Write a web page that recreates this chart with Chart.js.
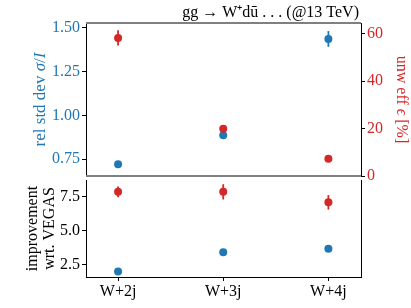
<!DOCTYPE html>
<html>
<head>
<meta charset="utf-8">
<script src="https://cdn.jsdelivr.net/npm/chart.js@4"></script>
<style>
	body { margin: 0; background: #fff; }
	#wrap { position: relative; width: 411px; height: 308px; }
	canvas { position: absolute; left: 0; }
</style>
</head>
<body>
<div id="wrap">
	<canvas id="top" width="411" height="180" style="top:0"></canvas>
	<canvas id="bot" width="411" height="132" style="top:176px"></canvas>
</div>
<script>
const categories = ["W+2j", "W+3j", "W+4j"];

// top panel
const relStdDev = [0.72, 0.886, 1.437];
const relStdDevErr = [0.01, 0.01, 0.045];
const unwEff = [58.3, 20.0, 7.3];
const unwEffErr = [3.2, 0.6, 0.5];

// bottom panel
const impStdDev = [2.0, 3.42, 3.67];
const impStdDevErr = [0.05, 0.07, 0.07];
const impEff = [7.85, 7.85, 7.08];
const impEffErr = [0.4, 0.56, 0.53];

const relTicks = [0.75, 1.0, 1.25, 1.5];
const effTicks = [0, 20, 40, 60];
const impTicks = [2.5, 5.0, 7.5];

const BLUE = "#1f77b4";
const RED = "#d62728";
const FONT = "\"Liberation Serif\", serif";
const SIZE = 16;

Chart.defaults.font.family = FONT;
Chart.defaults.font.size = SIZE;
Chart.defaults.color = "#000";

const points = (vals) => vals.map((v, i) => ({ x: i, y: v }));

function drawRich(ctx, x, y, angle, parts, color, size) {
	ctx.save();
	ctx.translate(x, y);
	ctx.rotate(angle);
	ctx.fillStyle = color;
	ctx.textBaseline = "middle";
	let total = 0;
	parts.forEach((p) => {
		ctx.font = (p[1] ? "italic " : "") + size + "px " + FONT;
		total += ctx.measureText(p[0]).width;
	});
	let cx = -total / 2;
	parts.forEach((p) => {
		ctx.font = (p[1] ? "italic " : "") + size + "px " + FONT;
		ctx.fillText(p[0], cx, 0);
		cx += ctx.measureText(p[0]).width;
	});
	ctx.restore();
}

const errorBars = {
	id: "errorBars",
	beforeDatasetsDraw(chart) {
		const ctx = chart.ctx;
		chart.data.datasets.forEach((ds) => {
			if (!ds.errors) return;
			const xs = chart.scales.x;
			const ys = chart.scales[ds.yAxisID];
			ctx.save();
			ctx.strokeStyle = ds.backgroundColor;
			ctx.lineWidth = 1.8;
			ds.data.forEach((p, i) => {
				const px = xs.getPixelForValue(p.x);
				ctx.beginPath();
				ctx.moveTo(px, ys.getPixelForValue(p.y - ds.errors[i]));
				ctx.lineTo(px, ys.getPixelForValue(p.y + ds.errors[i]));
				ctx.stroke();
			});
			ctx.restore();
		});
	}
};

const topDeco = {
	id: "topDeco",
	afterDraw(chart) {
		const ctx = chart.ctx;
		const a = chart.chartArea;
		ctx.save();
		ctx.strokeStyle = "#808080";
		ctx.lineWidth = 2;
		ctx.beginPath();
		ctx.moveTo(a.left, a.top);
		ctx.lineTo(a.right, a.top);
		ctx.moveTo(a.left, a.bottom);
		ctx.lineTo(a.right, a.bottom);
		ctx.stroke();
		ctx.fillStyle = "#000";
		ctx.font = SIZE + "px " + FONT;
		ctx.textAlign = "right";
		ctx.textBaseline = "alphabetic";
		ctx.fillText("gg \u2192 W\u207Ad\u016B . . . (@13 TeV)", a.right - 2, 17);
		ctx.restore();
		const cy = (a.top + a.bottom) / 2;
		drawRich(ctx, 41, cy, -Math.PI / 2,
			[["rel std dev ", false], ["\u03C3", true], ["/", false], ["I", true]], BLUE, 17);
		drawRich(ctx, 401, cy, Math.PI / 2,
			[["unw eff ", false], ["\u03F5", true], [" [%]", false]], RED, 16);
	}
};

const botDeco = {
	id: "botDeco",
	afterDraw(chart) {
		const ctx = chart.ctx;
		const a = chart.chartArea;
		ctx.save();
		ctx.strokeStyle = "#000";
		ctx.lineWidth = 1;
		ctx.beginPath();
		ctx.moveTo(Math.round(a.right) + 0.5, a.top);
		ctx.lineTo(Math.round(a.right) + 0.5, a.bottom);
		ctx.stroke();
		ctx.restore();
		const cy = (a.top + a.bottom) / 2;
		drawRich(ctx, 33, cy, -Math.PI / 2, [["improvement", false]], "#000", 16);
		drawRich(ctx, 50, cy, -Math.PI / 2, [["wrt. VEGAS", false]], "#000", 16);
	}
};

const yAxis = (pos, min, max, tickVals, color, digits) => ({
	type: "linear",
	position: pos,
	min: min,
	max: max,
	afterBuildTicks: (s) => { s.ticks = tickVals.map((v) => ({ value: v })); },
	afterFit: (s) => {
		s.width = pos === "left" ? 86 : 50;
		s.paddingTop = 0;
		s.paddingBottom = 0;
	},
	ticks: {
		color: color,
		padding: 2,
		callback: (v) => v.toFixed(digits)
	},
	grid: { drawOnChartArea: false, tickLength: 4, tickColor: "#000" },
	border: { color: "#000", width: 1 }
});

const xAxis = (show) => ({
	type: "linear",
	min: -0.305,
	max: 2.31,
	display: show,
	afterBuildTicks: (s) => { s.ticks = categories.map((c, i) => ({ value: i })); },
	afterFit: (s) => {
		if (show) s.height = 31;
		s.paddingLeft = 0;
		s.paddingRight = 0;
	},
	ticks: {
		padding: 1,
		maxRotation: 0,
		callback: (v) => categories[v]
	},
	grid: { drawOnChartArea: false, tickLength: 4, tickColor: "#000" },
	border: { color: "#000", width: 1 }
});

const common = {
	responsive: false,
	animation: false,
	events: [],
	plugins: { legend: { display: false }, tooltip: { enabled: false } }
};

new Chart(document.getElementById("top"), {
	type: "scatter",
	data: {
		datasets: [
			{ data: points(unwEff), errors: unwEffErr, yAxisID: "yR",
				backgroundColor: RED, borderColor: RED, pointRadius: 4, borderWidth: 0 },
			{ data: points(relStdDev), errors: relStdDevErr, yAxisID: "yL",
				backgroundColor: BLUE, borderColor: BLUE, pointRadius: 4, borderWidth: 0 }
		]
	},
	options: {
		...common,
		layout: { padding: { top: 23, bottom: 4, left: 0, right: 0 } },
		scales: {
			x: xAxis(false),
			yL: yAxis("left", 0.653, 1.528, relTicks, BLUE, 2),
			yR: yAxis("right", 0, 64.6, effTicks, RED, 0)
		}
	},
	plugins: [errorBars, topDeco]
});

new Chart(document.getElementById("bot"), {
	type: "scatter",
	data: {
		datasets: [
			{ data: points(impEff), errors: impEffErr, yAxisID: "y",
				backgroundColor: RED, borderColor: RED, pointRadius: 4, borderWidth: 0 },
			{ data: points(impStdDev), errors: impStdDevErr, yAxisID: "y",
				backgroundColor: BLUE, borderColor: BLUE, pointRadius: 4, borderWidth: 0 }
		]
	},
	options: {
		...common,
		layout: { padding: { top: 0, bottom: 0, left: 0, right: 50 } },
		scales: {
			x: xAxis(true),
			y: yAxis("left", 1.6, 8.72, impTicks, "#000", 1)
		}
	},
	plugins: [errorBars, botDeco]
});
</script>
</body>
</html>
